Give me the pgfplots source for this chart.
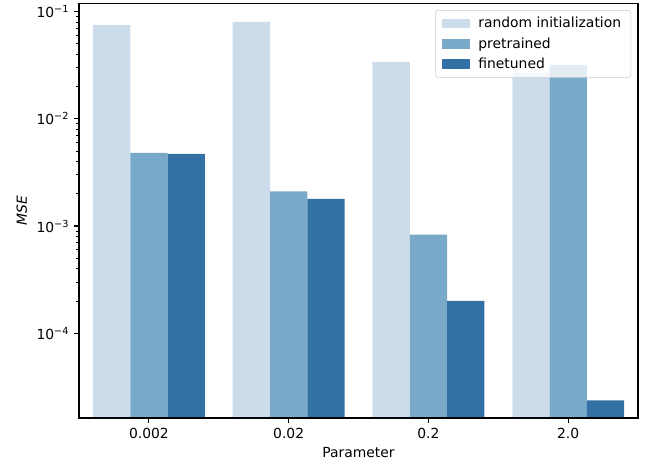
\documentclass[border=0pt]{standalone}
\usepackage{fontspec}
\setmainfont{DejaVu Sans}
\usepackage{pgfplots}
\pgfplotsset{compat=1.18}
\definecolor{c1}{RGB}{205,220,234}
\definecolor{c2}{RGB}{121,169,200}
\definecolor{c3}{RGB}{51,112,163}
\pgfplotstableread{
x rnd pre fin
0 0.075 0.0048 0.0047
1 0.080 0.0021 0.00179
2 0.034 0.00083 0.00020
3 0.027 0.0318 0.0000237
}\data
\begin{document}
\begin{tikzpicture}
\begin{axis}[
 scale only axis, width=402.5pt, height=298.8pt,
 ymode=log, ymin=1.62e-5, ymax=0.12, xmin=-0.5, xmax=3.5,
 log origin y=infty,
 ybar, bar width=0.2667,
 axis on top,
 xtick={0,1,2,3}, xticklabels={0.002,0.02,0.2,2.0},
 ytick={1e-4,1e-3,1e-2,1e-1},
 yticklabels={10\textsuperscript{−4},10\textsuperscript{−3},10\textsuperscript{−2},10\textsuperscript{−1}},
 xtick pos=bottom, ytick pos=left,
 tick align=outside, major tick length=3.5pt, minor tick length=2pt,
 every tick/.style={black, line width=0.8pt},
 minor tick style={line width=0.6pt},
 axis line style={line width=0.8pt},
 xlabel={Parameter}, ylabel={\textit{MSE}},
 legend cell align=left,
 legend style={at={(rel axis cs:1,1)}, anchor=north east, xshift=-5pt, yshift=-5pt,
   draw=black!20, rounded corners=2pt, fill=white, fill opacity=0.8, text opacity=1,
   inner xsep=5pt, inner ysep=3pt, row sep=1.5pt, font=\normalsize},
 legend image code/.code={\fill[#1, fill opacity=1, sharp corners] (0pt,-3.5pt) rectangle (20pt,3.5pt);},
]
\addplot[fill=c1, draw=none, bar shift=-0.2667] table[x=x,y=rnd]{\data};
\addplot[fill=c2, draw=none, bar shift=0] table[x=x,y=pre]{\data};
\addplot[fill=c3, draw=none, bar shift=0.2667] table[x=x,y=fin]{\data};
\legend{\hspace{4pt}random initialization, \hspace{4pt}pretrained, \hspace{4pt}finetuned}
\end{axis}
\path ([xshift=-56.9pt, yshift=-33.1pt]current axis.south west) rectangle ([xshift=7.9pt,yshift=2.2pt]current axis.north east);
\end{tikzpicture}
\end{document}
